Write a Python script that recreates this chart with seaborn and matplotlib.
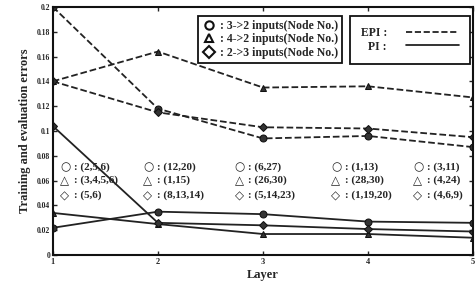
import numpy as np
import pandas as pd
import matplotlib
matplotlib.use('Agg')
import matplotlib.pyplot as plt
import seaborn as sns
from matplotlib.lines import Line2D

sns.set_style('ticks')
plt.rcParams['font.family'] = ['Liberation Serif', 'DejaVu Sans']
plt.rcParams['font.weight'] = 'bold'

# 数据
layers = [1, 2, 3, 4, 5]
epi_circle = [0.200, 0.118, 0.094, 0.096, 0.087]
epi_triangle = [0.140, 0.164, 0.135, 0.136, 0.127]
epi_diamond = [0.140, 0.115, 0.103, 0.102, 0.095]
pi_circle = [0.022, 0.035, 0.033, 0.027, 0.026]
pi_triangle = [0.034, 0.025, 0.017, 0.017, 0.014]
pi_diamond = [0.104, 0.026, 0.024, 0.021, 0.019]

yticks = [0, 0.02, 0.04, 0.06, 0.08, 0.1, 0.12, 0.14, 0.16, 0.18, 0.2]
ytick_labels = ['0', '0.02', '0.04', '0.06', '0.08', '0.1', '0.12', '0.14', '0.16', '0.18', '0.2']

node_circle = ['(2,5,6)', '(12,20)', '(6,27)', '(1,13)', '(3,11)']
node_triangle = ['(3,4,5,6)', '(1,15)', '(26,30)', '(28,30)', '(4,24)']
node_diamond = ['(5,6)', '(8,13,14)', '(5,14,23)', '(1,19,20)', '(4,6,9)']

legend_labels = [': 3->2 inputs(Node No.)', ': 4->2 inputs(Node No.)', ': 2->3 inputs(Node No.)']

fig = plt.figure(figsize=(4.76, 2.86), dpi=100)
ax = fig.add_axes([0.111, 0.108, 0.883, 0.868])

series = [
    (epi_circle, 'o', '--', 5), (epi_triangle, '^', '--', 5), (epi_diamond, 'D', '--', 4),
    (pi_circle, 'o', '-', 5), (pi_triangle, '^', '-', 5), (pi_diamond, 'D', '-', 4),
]
for vals, mk, ls, ms in series:
    sns.lineplot(x=layers, y=vals, ax=ax, color='#222222', linestyle=ls, lw=1.3,
                 marker=mk, markersize=ms, markeredgecolor='#111111',
                 markerfacecolor='#333333', legend=False)

ax.set_xlim(1, 5)
ax.set_ylim(0, 0.2)
ax.set_xticks(layers)
ax.set_xticklabels([str(l) for l in layers], fontsize=6, fontweight='bold')
ax.set_yticks(yticks)
ax.set_yticklabels(ytick_labels, fontsize=5.5, fontweight='bold')
ax.tick_params(direction='in', length=3, width=1, top=True, right=True, pad=2)
for sp in ax.spines.values():
    sp.set_linewidth(1.5)
    sp.set_color('#111111')
ax.set_xlabel('Layer', fontsize=9, fontweight='bold', labelpad=2)
ax.set_ylabel('Training and evaluation errors', fontsize=9, fontweight='bold', labelpad=4)

# 节点编号注释
col_x = [1.07, 1.86, 2.73, 3.65, 4.43]
rows = [(node_circle, '○', 0.071), (node_triangle, '△', 0.060), (node_diamond, '◇', 0.048)]
for labels, sym, yv in rows:
    for cx, lab in zip(col_x, labels):
        ax.text(cx, yv, sym, fontsize=8.5, fontweight='bold', va='center', ha='left',
                family=['DejaVu Sans'])
        ax.text(cx + 0.13, yv, ': ' + lab, fontsize=8, fontweight='bold',
                va='center', ha='left')

# 图例
h1 = [Line2D([], [], ls='none', marker=m, markersize=6, markerfacecolor='white',
             markeredgecolor='#111111', markeredgewidth=1.5) for m in ['o', '^', 'D']]
leg1 = ax.legend(h1, legend_labels, loc='upper left', bbox_to_anchor=(0.345, 0.965),
                 frameon=True, fancybox=False, edgecolor='#111111',
                 framealpha=1, handlelength=1.2, handletextpad=0.3, labelspacing=0.15,
                 borderpad=0.35, borderaxespad=0, prop={'weight': 'bold', 'size': 8.5})
leg1.get_frame().set_linewidth(1.3)
ax.add_artist(leg1)

h2 = [Line2D([], [], ls='--', color='#111111', lw=1.2),
      Line2D([], [], ls='-', color='#111111', lw=1.2)]
leg2 = ax.legend(h2, ['EPI :', 'PI :'], loc='upper right', bbox_to_anchor=(0.993, 0.965),
                 frameon=True, fancybox=False, edgecolor='#111111',
                 framealpha=1, handlelength=4.5, markerfirst=False, handletextpad=1.6,
                 labelspacing=0.15, borderpad=0.95, borderaxespad=0,
                 prop={'weight': 'bold', 'size': 8.5})
leg2.get_frame().set_linewidth(1.3)

fig.savefig('out.png', dpi=100)
